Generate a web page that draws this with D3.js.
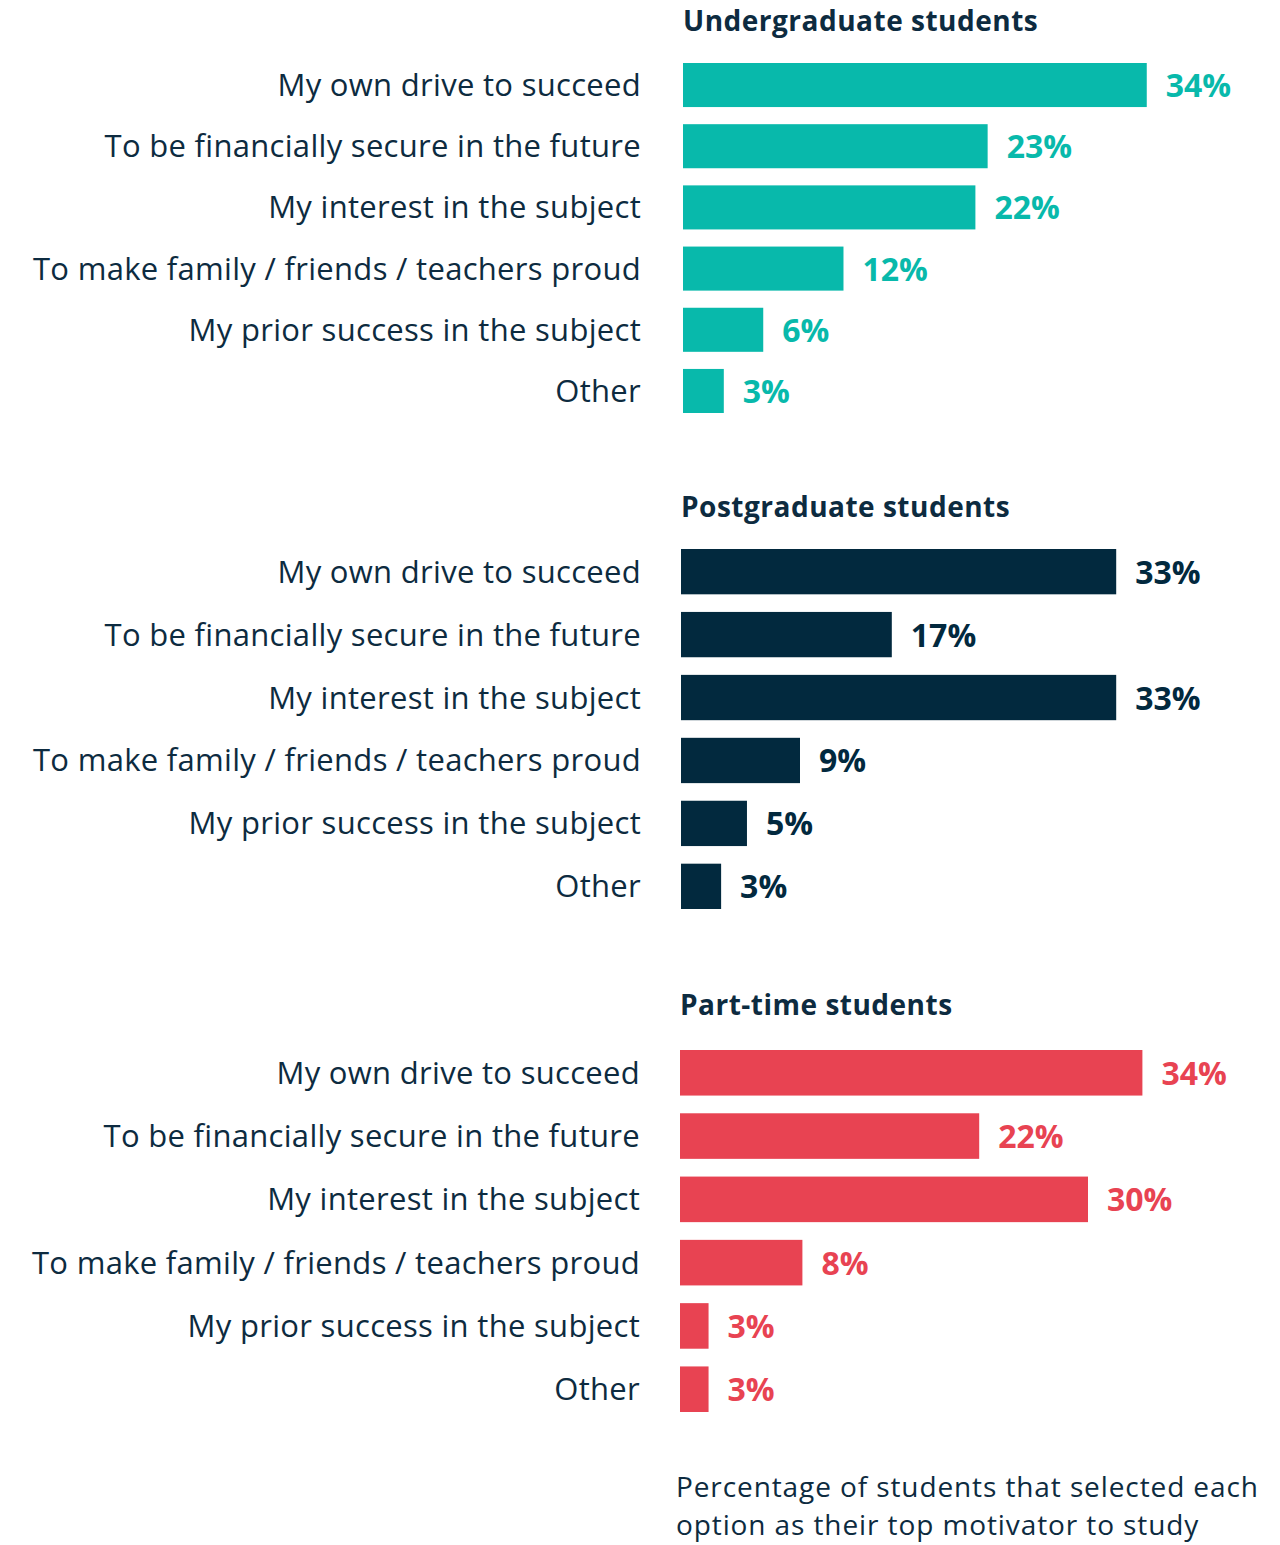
<!DOCTYPE html>
<html>
<head>
<meta charset="utf-8">
<script src="https://cdn.jsdelivr.net/npm/d3@7"></script>
<style>
  html, body { margin: 0; padding: 0; background: #fff; }
  svg { display: block; }
  text { font-family: "Open Sans", Lato, sans-serif; }
</style>
</head>
<body>
<svg id="chart" width="1280" height="1545"></svg>
<script>
const categories = [
  "My own drive to succeed",
  "To be financially secure in the future",
  "My interest in the subject",
  "To make family / friends / teachers proud",
  "My prior success in the subject",
  "Other"
];
const groupTitles = ["Undergraduate students", "Postgraduate students", "Part-time students"];
// displayed percentages
const undergraduateLabels = [34, 23, 22, 12, 6, 3];
const postgraduateLabels = [33, 17, 33, 9, 5, 3];
const partTimeLabels = [34, 22, 30, 8, 3, 3];
// bar lengths (in %)
const undergraduateValues = [34.1, 22.4, 21.5, 11.8, 5.9, 3.0];
const postgraduateValues = [32.0, 15.5, 32.0, 8.75, 4.85, 2.95];
const partTimeValues = [34.0, 22.0, 30.0, 9.0, 2.1, 2.1];
const groupColors = ["#08b9ab", "#02293e", "#e84352"];
const footnoteLines = ["Percentage of students that selected each", "option as their top motivator to study"];

const textColor = "#0d2b40";
const svg = d3.select("#chart");

const panels = [
  { title: groupTitles[0], values: undergraduateValues, labels: undergraduateLabels, color: groupColors[0], x0: 683, y0: 63, y1: 413, titleY: 31, labelX: 641 },
  { title: groupTitles[1], values: postgraduateValues, labels: postgraduateLabels, color: groupColors[1], x0: 681, y0: 549, y1: 909, titleY: 517, labelX: 641 },
  { title: groupTitles[2], values: partTimeValues, labels: partTimeLabels, color: groupColors[2], x0: 680, y0: 1050, y1: 1412, titleY: 1015, labelX: 640 }
];

const x = d3.scaleLinear().domain([0, 34]).range([0, 462.4]);

panels.forEach(p => {
  const g = svg.append("g");
  const y = d3.scaleBand().domain(categories).range([p.y0, p.y1]).paddingInner(0.28).paddingOuter(0);
  const data = categories.map((c, i) => ({ cat: c, v: p.values[i], lab: p.labels[i] }));

  g.append("text")
    .attr("x", p.x0)
    .attr("y", p.titleY)
    .attr("fill", textColor)
    .attr("font-size", 28)
    .attr("font-weight", 700)
    .attr("letter-spacing", 0.5)
    .text(p.title);

  g.selectAll("rect").data(data).join("rect")
    .attr("x", p.x0)
    .attr("y", d => y(d.cat))
    .attr("width", d => x(d.v))
    .attr("height", y.bandwidth())
    .attr("fill", p.color);

  g.selectAll("text.cat").data(data).join("text")
    .attr("class", "cat")
    .attr("x", p.labelX)
    .attr("y", d => y(d.cat) + y.bandwidth() / 2 + 11)
    .attr("text-anchor", "end")
    .attr("fill", textColor)
    .attr("font-size", 31)
    .attr("letter-spacing", 0.3)
    .text(d => d.cat);

  g.selectAll("text.val").data(data).join("text")
    .attr("class", "val")
    .attr("x", d => p.x0 + x(d.v) + 19)
    .attr("y", d => y(d.cat) + y.bandwidth() / 2 + 12)
    .attr("fill", p.color)
    .attr("font-size", 32)
    .attr("font-weight", 700)
    .text(d => d.lab + "%");
});

svg.append("g").selectAll("text").data(footnoteLines).join("text")
  .attr("x", 676)
  .attr("y", (d, i) => 1497 + i * 38)
  .attr("fill", textColor)
  .attr("font-size", 28)
  .attr("letter-spacing", 0.9)
  .text(d => d);
</script>
</body>
</html>
